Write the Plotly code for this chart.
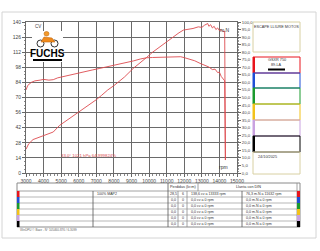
import plotly.graph_objects as go

# ---------------- data ----------------
rpm_power = [3000, 3150, 3400, 3700, 4000, 4300, 4550, 4900, 5300, 5600, 6000, 6500, 7000, 7300,
             7650, 8000, 8200, 8600, 9100, 9500, 9850, 10200, 10600, 11000, 11400, 11700, 11950,
             12200, 12500, 12800, 13000, 13150, 13333, 13400, 13500, 13600, 13700, 13800, 13900,
             14000, 14100, 14200, 14300, 14340]
power_cv = [22, 27, 31, 33, 35, 36.5, 38, 44, 48.5, 52, 56, 62, 68, 72,
            77, 81, 83.5, 89, 97, 102, 107, 112, 117, 122, 127, 130, 132.5,
            133, 134, 135.5, 135, 137, 138.6, 136, 137.5, 134.5, 136, 133, 134.5,
            132, 133, 131, 131.5, 12]

rpm_torque = [3000, 3100, 3300, 3500, 3800, 4000, 4300, 4550, 4800, 5300, 5800, 6300, 6800, 7200,
              7700, 8200, 8700, 9100, 9500, 9850, 10200, 10600, 11000, 11400, 11632, 11800, 12000,
              12300, 12600, 12900, 13200, 13400, 13600, 13750, 13900, 14000, 14100, 14200, 14300, 14340]
torque_mn = [55, 58, 60, 61, 61.5, 62, 61.5, 61.8, 63, 64.2, 65.5, 67, 68.3, 69.3,
             70.5, 71.6, 72.8, 74.2, 75.5, 76.3, 76.5, 76.7, 76.8, 77, 77.4, 77, 76.4,
             75.5, 74.3, 72.6, 71, 70.2, 68.5, 68.8, 66.5, 66.8, 64, 62.5, 61, 8.6]

x_ticks = list(range(3000, 15001, 1000))
left_ticks = list(range(0, 141, 14))
right_ticks = [i * 5 for i in range(21)]
right_labels = [f"{v:.1f}".replace(".", ",") for v in right_ticks]

conditions_text = "33,0° 1021 hPa 64,999824%"
header_box_text = "ESCAPE LLIURE MOTOS"
vehicle_lines = ["GSXR 750", "89-LA"]
date_text = "24/10/2025"
row_colors = ["#e8141c", "#1f4fd6", "#1a9a2e", "#f2c21a", "#c9a2e0", "#000000"]
row_labels = ["100% MAP2", "", "", "", "", ""]
row_loss = ["28,5", "0,0", "0,0", "0,0", "0,0", "0,0"]
row_pct = ["6", "0", "0", "0", "0", "0"]
row_power = ["138,6 cv a 13333 rpm"] + ["0,0 cv a 0 rpm"] * 5
row_torque = ["76,3 m.N a 11632 rpm"] + ["0,0 m.N a 0 rpm"] * 5
footer_text = "WinDPU © Bazz - N° 105460-876 / 6-3099"

# ---------------- geometry helpers ----------------
W, H = 320, 251
L, R, T, B = 26, 237, 22, 173


def px(x):
    return (x - L) / (R - L)


def py(y):
    return (B - y) / (B - T)


RED = "#dc4b4f"
GRID = "#6a6a6a"
FONT = "Liberation Sans, Arial, sans-serif"

fig = go.Figure()
fig.add_trace(go.Scatter(x=rpm_power, y=power_cv, mode="lines",
                         line=dict(color=RED, width=0.9), hoverinfo="skip", showlegend=False))
fig.add_trace(go.Scatter(x=rpm_torque, y=torque_mn, mode="lines", yaxis="y2",
                         line=dict(color=RED, width=0.9), hoverinfo="skip", showlegend=False))

shapes = []
annotations = []


def rect(x0, y0, x1, y1, line=None, fill=None, width=1, layer="above"):
    shapes.append(dict(type="rect", xref="paper", yref="paper",
                       x0=px(x0), x1=px(x1), y0=py(y1), y1=py(y0),
                       line=dict(color=line or "rgba(0,0,0,0)", width=width if line else 0),
                       fillcolor=fill or "rgba(0,0,0,0)", layer=layer))


def hline(x0, x1, y, color="#8a8a8a", width=0.8):
    shapes.append(dict(type="line", xref="paper", yref="paper",
                       x0=px(x0), x1=px(x1), y0=py(y), y1=py(y),
                       line=dict(color=color, width=width)))


def vline(x, y0, y1, color="#8a8a8a", width=0.8):
    shapes.append(dict(type="line", xref="paper", yref="paper",
                       x0=px(x), x1=px(x), y0=py(y0), y1=py(y1),
                       line=dict(color=color, width=width)))


def text(x, y, s, size=4.5, color="#333", xanchor="left", bold=False):
    annotations.append(dict(xref="paper", yref="paper", x=px(x), y=py(y), text=("<b>%s</b>" % s) if bold else s,
                            showarrow=False, xanchor=xanchor, yanchor="middle",
                            font=dict(size=size, color=color, family=FONT)))


# outer panel
rect(2, 12, 316, 238, line="#d4d4d4", fill="white", width=1, layer="below")

# legend boxes on the right
BX0, BX1 = 253, 300
rect(BX0, 22, BX1, 52, line="#d8d0a2")
text((BX0 + BX1) / 2, 27.5, header_box_text, size=3.8, xanchor="center")
box_edges = [57, 73, 88, 104, 120, 136, 152]
for i, c in enumerate(row_colors):
    y0, y1 = box_edges[i], box_edges[i + 1]
    rect(BX0, y0, BX1, y1, line=c, width=1)
    rect(BX0, y0, BX0 + 2, y1, fill=c)
text((BX0 + BX1) / 2, 60.5, vehicle_lines[0], size=3.8, xanchor="center")
text((BX0 + BX1) / 2, 65, vehicle_lines[1], size=3.8, xanchor="center")
shapes.append(dict(type="line", xref="paper", yref="paper", x0=px(268), x1=px(285), y0=py(69.5), y1=py(69.5),
                   line=dict(color="black", width=2)))
rect(BX0, 152, BX1, 174, line="#d8d0a2")
text(BX0 + 3, 157, date_text, size=3.8)

# table
TX0, TX1, TY0 = 17, 300, 183
row_h = 6
rows_top = 191
rect(TX0, TY0, TX1, rows_top + row_h * 6, line="#8a8a8a")
hline(TX0, TX1, rows_top)
for i in range(1, 6):
    hline(TX0, TX1, rows_top + row_h * i, color="#9a9a9a", width=0.7)
vline(93, rows_top, rows_top + row_h * 6, color="#555")
vline(168, TY0, rows_top + row_h * 6, color="#555")
vline(178, rows_top, rows_top + row_h * 6)
vline(187, rows_top, rows_top + row_h * 6)
vline(198, TY0, rows_top)
vline(242, rows_top, rows_top + row_h * 6, color="#555")
vline(297, TY0, rows_top + row_h * 6)
text(183, 187, "Perdidas (kr.m)", size=3.8, xanchor="center")
text(248, 187, "Llanta con DIN", size=3.8, xanchor="center")
for i, c in enumerate(row_colors):
    yt = rows_top + row_h * i
    rect(TX0, yt, TX0 + 2.5, yt + row_h, fill=c)
    rect(297, yt, 300, yt + row_h, fill=c)
    yc = yt + row_h / 2
    if row_labels[i]:
        text(95, yc, row_labels[i], size=3.6)
    text(173, yc, row_loss[i], size=3.6, xanchor="center")
    text(182.5, yc, row_pct[i], size=3.6, xanchor="center")
    text(189, yc, row_power[i], size=3.6)
    text(244, yc, row_torque[i], size=3.6)

text(18, 230, footer_text, size=3, color="#666")

# in-plot labels
text(38, 26.5, "CV", size=4.5, color="#444", xanchor="center")
text(225, 30.5, "m.N", size=5, color="#333", xanchor="center")
text(223, 167, "rpm", size=5, color="#333", xanchor="center")
text(88, 155, conditions_text, size=4.3, color=RED, xanchor="center")

# FUCHS logo (white backing hides the grid)
rect(32, 31, 63, 62, fill="white")
text(47.5, 53.5, "FUCHS", size=10, color="black", xanchor="center", bold=True)
rect(33, 59, 62, 61, fill="black")
shapes.append(dict(type="circle", xref="paper", yref="paper", x0=px(37), x1=px(44), y0=py(47), y1=py(40),
                   line=dict(color="black", width=0.8), fillcolor="white"))
shapes.append(dict(type="circle", xref="paper", yref="paper", x0=px(51), x1=px(58), y0=py(47), y1=py(40),
                   line=dict(color="black", width=0.8), fillcolor="white"))
shapes.append(dict(type="path", xref="paper", yref="paper",
                   path=f"M {px(41)} {py(42)} L {px(44)} {py(37)} L {px(52)} {py(38)} L {px(55)} {py(42)} Z",
                   line=dict(color="#c26a10", width=0.6), fillcolor="#f08a1c"))
shapes.append(dict(type="circle", xref="paper", yref="paper", x0=px(44), x1=px(49), y0=py(36), y1=py(31.5),
                   line=dict(color="#c26a10", width=0.6), fillcolor="#f39a2a"))

axis_font = dict(size=5, color="#444", family=FONT)
fig.update_layout(
    width=W, height=H,
    margin=dict(l=L, r=W - R, t=T, b=H - B, pad=0),
    paper_bgcolor="white", plot_bgcolor="white",
    showlegend=False,
    xaxis=dict(range=[3000, 15000], tickmode="array", tickvals=x_ticks, ticktext=[str(v) for v in x_ticks],
               showgrid=True, gridcolor=GRID, gridwidth=1, zeroline=False,
               ticks="outside", ticklen=3, tickcolor="#666", tickfont=axis_font,
               showline=True, linecolor=GRID, linewidth=1, mirror=True,
               minor=dict(dtick=200, ticks="outside", ticklen=1.5, tickcolor="#888", showgrid=False)),
    yaxis=dict(range=[0, 140], tickmode="array", tickvals=left_ticks, ticktext=[str(v) for v in left_ticks],
               showgrid=True, gridcolor=GRID, gridwidth=1, zeroline=False,
               ticks="outside", ticklen=3, tickcolor="#666", tickfont=axis_font,
               showline=True, linecolor=GRID, linewidth=1,
               minor=dict(dtick=3.5, ticks="outside", ticklen=1.5, tickcolor="#888", showgrid=False)),
    yaxis2=dict(range=[0, 100], overlaying="y", side="right", tickmode="array", tickvals=right_ticks,
                ticktext=right_labels, showgrid=False, zeroline=False,
                ticks="outside", ticklen=3, tickcolor="#666", tickfont=dict(size=4.3, color="#444", family=FONT),
                showline=True, linecolor=GRID, linewidth=1,
                minor=dict(dtick=1, ticks="outside", ticklen=1.2, tickcolor="#999")),
    shapes=shapes,
    annotations=annotations,
)

fig.write_html("out.html")
